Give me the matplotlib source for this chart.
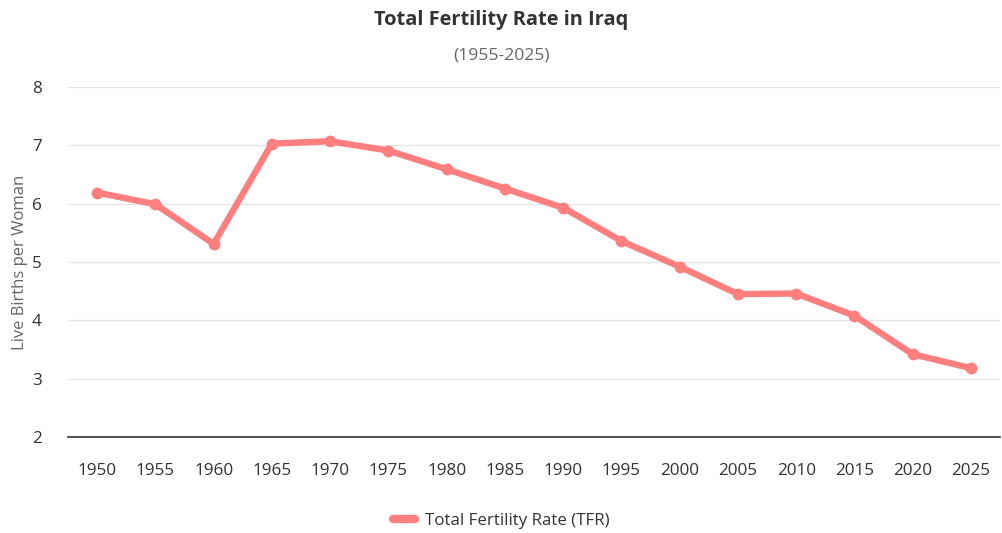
import matplotlib
matplotlib.use("Agg")
import matplotlib.pyplot as plt
from matplotlib.lines import Line2D

years = ["1950", "1955", "1960", "1965", "1970", "1975", "1980", "1985",
         "1990", "1995", "2000", "2005", "2010", "2015", "2020", "2025"]
tfr = [6.19, 5.99, 5.31, 7.03, 7.07, 6.91, 6.59, 6.26,
       5.93, 5.36, 4.92, 4.45, 4.46, 4.08, 3.42, 3.18]
y_ticks = [2, 3, 4, 5, 6, 7, 8]

plt.rcParams['font.family'] = ['Open Sans', 'DejaVu Sans']

W, H = 1002, 533
fig = plt.figure(figsize=(W / 100, H / 100), dpi=100)
ax = fig.add_axes([68 / W, 1 - 437 / H, (1000 - 68) / W, (437 - 87) / H])

color = "#ff7f7f"
x = list(range(len(years)))
ax.plot(x, tfr, color=color, lw=4.6, marker="o", ms=7.5,
        solid_capstyle="round", solid_joinstyle="round", zorder=3)

ax.set_xlim(-0.5, len(years) - 0.5)
ax.set_ylim(2, 8)
ax.set_yticks(y_ticks)
ax.set_xticks(x)
ax.set_xticklabels(years)
ax.tick_params(axis="both", length=0, labelsize=12.3, colors="#333333")
ax.tick_params(axis="x", pad=19)
ax.tick_params(axis="y", pad=19)
ax.grid(axis="y", color="#e6e6e6", lw=1)
ax.set_axisbelow(True)
for s in ["top", "right", "left"]:
    ax.spines[s].set_visible(False)
ax.spines["bottom"].set_color("#333333")
ax.spines["bottom"].set_linewidth(1.2)

ax.set_ylabel("Live Births per Woman", fontsize=12, color="#666666", labelpad=3)

fig.text(0.5, 1 - 20 / H, "Total Fertility Rate in Iraq", ha="center", va="center",
         fontsize=14.4, fontweight="bold", color="#333333")
fig.text(0.5, 1 - 55 / H, "(1955-2025)", ha="center", va="center",
         fontsize=12.6, color="#666666")

handle = Line2D([0], [0], color=color, lw=6, solid_capstyle="round")
fig.legend([handle], ["Total Fertility Rate (TFR)"], loc="center",
           bbox_to_anchor=(0.5, 1 - 521 / H), frameon=False, fontsize=12.2,
           handlelength=1.3, handletextpad=0.6, labelcolor="#333333")

fig.savefig("out.png", dpi=100)
